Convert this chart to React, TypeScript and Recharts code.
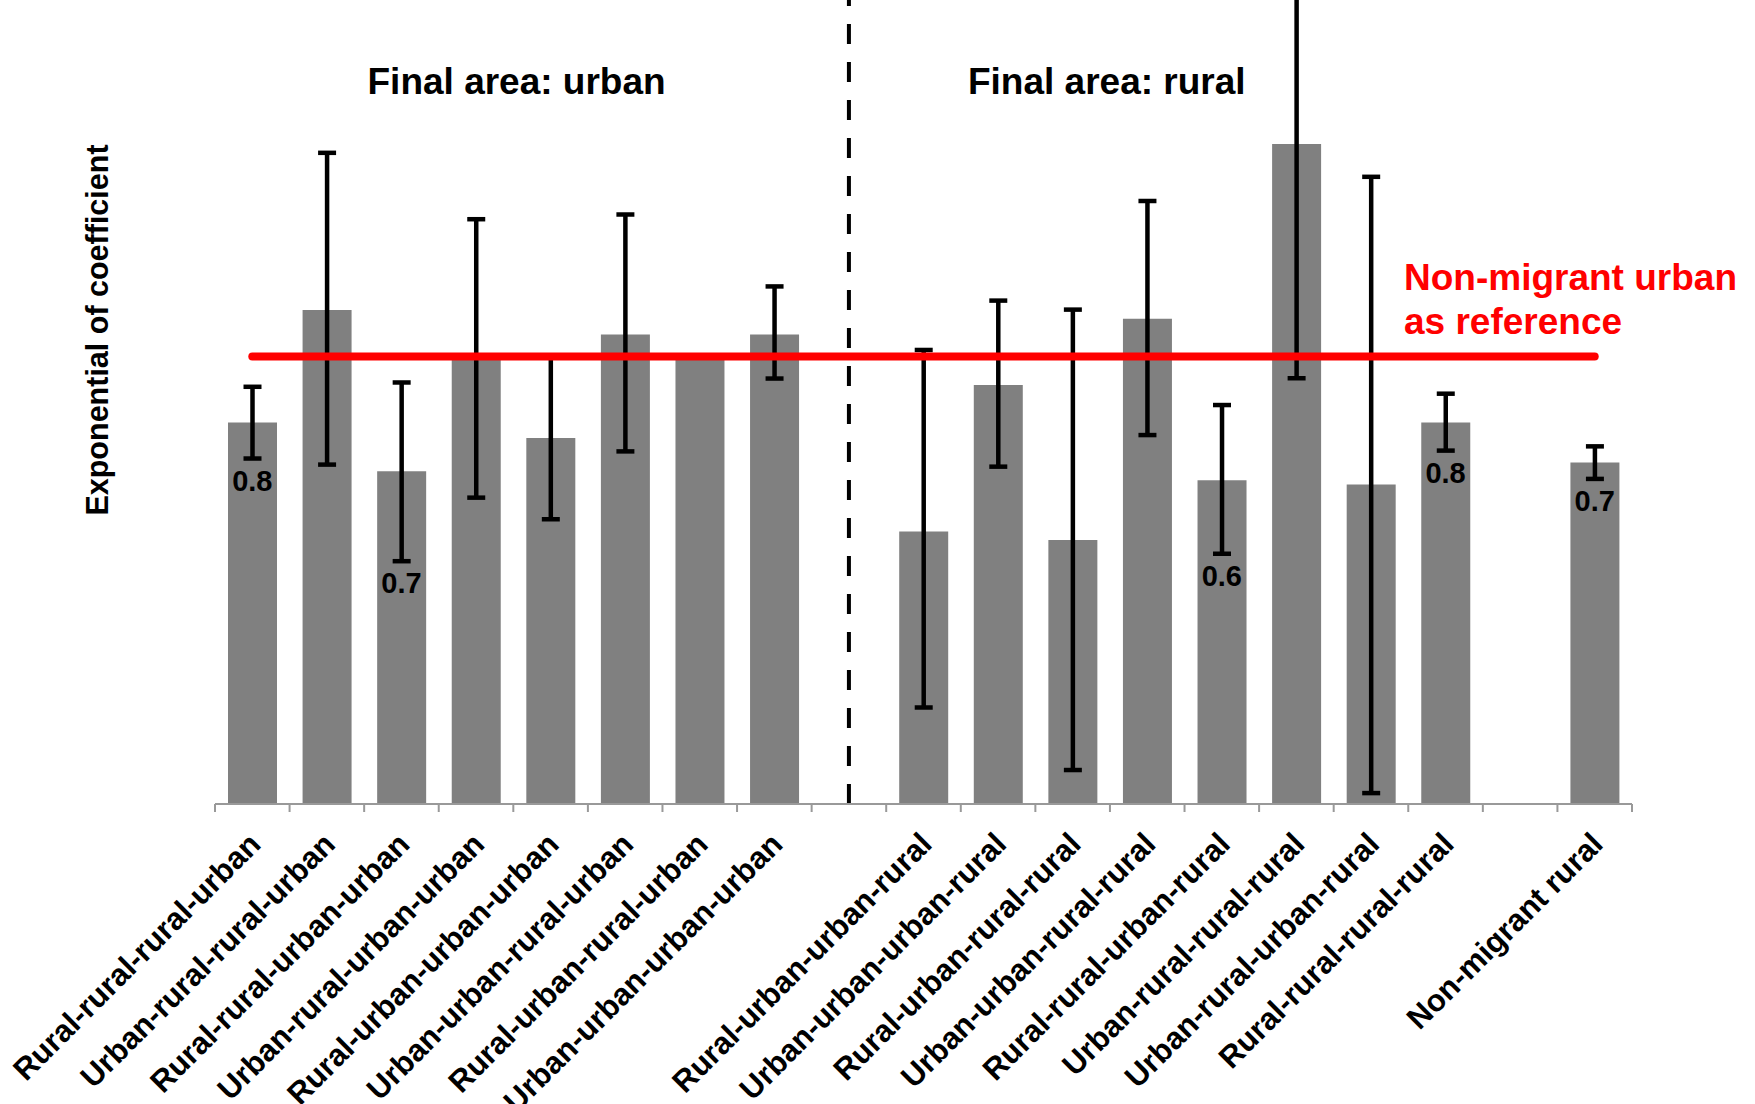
import React from 'react';
import { ComposedChart, Bar, Line, XAxis, YAxis, ErrorBar, ReferenceLine, LabelList } from 'recharts';

const categories = [
  'Rural-rural-rural-urban',
  'Urban-rural-rural-urban',
  'Rural-rural-urban-urban',
  'Urban-rural-urban-urban',
  'Rural-urban-urban-urban',
  'Urban-urban-rural-urban',
  'Rural-urban-rural-urban',
  'Urban-urban-urban-urban',
  '',
  'Rural-urban-urban-rural',
  'Urban-urban-urban-rural',
  'Rural-urban-rural-rural',
  'Urban-urban-rural-rural',
  'Rural-rural-urban-rural',
  'Urban-rural-rural-rural',
  'Urban-rural-urban-rural',
  'Rural-rural-rural-rural',
  '',
  'Non-migrant rural',
];

// exponential of coefficient (bar height)
const values = [0.789, 1.182, 0.662, 0.99, 0.746, 1.083, 0.99, 1.083, null, 0.533, 0.903, 0.517, 1.146, 0.641, 2.148, 0.631, 0.789, null, 0.683];
// confidence interval bounds
const lower = [0.693, 0.678, 0.479, 0.602, 0.557, 0.711, null, 0.924, null, 0.283, 0.673, 0.226, 0.754, 0.492, 0.925, 0.208, 0.713, null, 0.644];
const upper = [0.897, 2.081, 0.911, 1.639, 1.0, 1.667, null, 1.287, null, 1.024, 1.223, 1.184, 1.75, 0.84, 4.5, 1.909, 0.875, null, 0.724];
const valueLabels = ['0.8', '', '0.7', '', '', '', '', '', '', '', '', '', '', '0.6', '', '', '0.8', '', '0.7'];

const referenceValue = 1;
const yDomain = [0.2, 3.606];

const W = 1755;
const H = 1104;
const ML = 215;
const MR = 123;
const SLOT = (W - ML - MR) / categories.length;
const FONT = '"Liberation Sans", Arial, sans-serif';

const data = categories.map((c, i) => ({
  key: c || `gap${i}`,
  value: values[i],
  err: values[i] != null && lower[i] != null ? [values[i]! - lower[i]!, upper[i]! - values[i]!] : undefined,
  refLevel: i === 0 || i === categories.length - 1 ? referenceValue : null,
  lblAt: valueLabels[i] ? lower[i] : null,
  lbl: valueLabels[i] || undefined,
}));

const renderTick = (props: any) => {
  const { x, y, index } = props;
  const label = categories[index];
  const last = index === categories.length - 1;
  return (
    <g>
      <line x1={x - SLOT / 2} y1={y} x2={x - SLOT / 2} y2={y + 8} stroke="#999" strokeWidth={2} />
      {last && <line x1={x + SLOT / 2} y1={y} x2={x + SLOT / 2} y2={y + 8} stroke="#999" strokeWidth={2} />}
      <g transform={`translate(${x + 10},${y + 42}) rotate(-45)`}>
        <text x={0} y={0} textAnchor="end" fontFamily={FONT} fontWeight="bold" fontSize={31} fill="#000">
          {label}
        </text>
      </g>
    </g>
  );
};

const renderValueLabel = (props: any) => {
  const { x, y, value } = props;
  if (!value || x == null || y == null) return null;
  return (
    <text x={x} y={y + 32} textAnchor="middle" fontFamily={FONT} fontWeight="bold" fontSize={29} fill="#000">
      {value}
    </text>
  );
};

const App = () => {
  return (
    <div style={{ position: 'absolute', left: 0, top: 0, width: W, height: H, background: '#fff' }}>
      <ComposedChart width={W} height={H} data={data} margin={{ top: 0, right: MR, left: ML, bottom: 0 }}>
        <XAxis
          dataKey="key"
          type="category"
          height={300}
          interval={0}
          tickSize={0}
          tickMargin={0}
          tickLine={false}
          axisLine={{ stroke: '#999', strokeWidth: 2 }}
          tick={renderTick}
        />
        <YAxis type="number" scale="log" domain={yDomain} allowDataOverflow hide />
        <Bar dataKey="value" fill="#808080" barSize={49} isAnimationActive={false}>
          <ErrorBar dataKey="err" direction="y" width={9} strokeWidth={4.5} stroke="#000" isAnimationActive={false} />
        </Bar>
        <Line
          dataKey="refLevel"
          stroke="#ff0000"
          strokeWidth={8}
          strokeLinecap="round"
          dot={false}
          activeDot={false}
          connectNulls
          isAnimationActive={false}
        />
        <ReferenceLine x="gap8" stroke="#000" strokeWidth={4} strokeDasharray="20 18" />
        <Line dataKey="lblAt" stroke="none" dot={false} activeDot={false} isAnimationActive={false}>
          <LabelList dataKey="lbl" content={renderValueLabel} />
        </Line>
      </ComposedChart>
      <svg width={W} height={H} style={{ position: 'absolute', left: 0, top: 0, pointerEvents: 'none' }}>
        <g fontFamily={FONT} fontWeight="bold">
          <text x={516.6} y={94} textAnchor="middle" fontSize={37} fill="#000">Final area: urban</text>
          <text x={1106.8} y={94} textAnchor="middle" fontSize={37} fill="#000">Final area: rural</text>
          <text x={1404} y={290} fontSize={37} fill="#ff0000">Non-migrant urban</text>
          <text x={1404} y={334.3} fontSize={37} fill="#ff0000">as reference</text>
          <text transform="translate(108,330) rotate(-90)" textAnchor="middle" fontSize={30.5} fill="#000">
            Exponential of coefficient
          </text>
        </g>
      </svg>
    </div>
  );
};

export default App;
